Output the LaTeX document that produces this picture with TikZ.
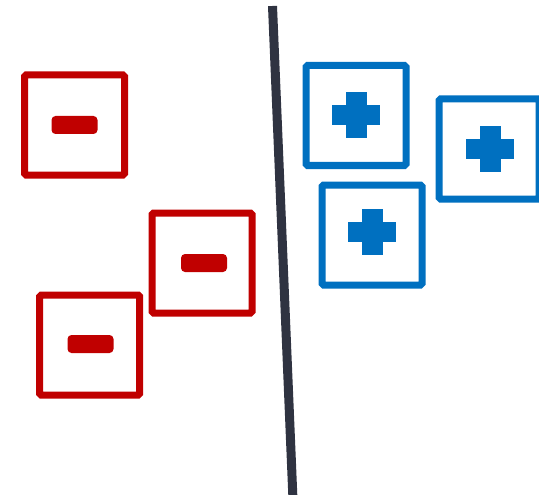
\documentclass[tikz,border=0pt]{standalone}
\begin{document}
\begin{tikzpicture}[x=1pt,y=-1pt,
  framebox/.style={draw, rectangle, line width=7pt, minimum size=100pt, inner sep=0pt, rounded corners=1.5pt, fill=white},
  negbox/.style={framebox, draw=negred},
  posbox/.style={framebox, draw=posblue},
  minusbar/.style={fill=negred, rectangle, minimum width=46pt, minimum height=18pt, inner sep=0pt, rounded corners=4pt},
  plusmark/.style={fill=posblue},
  divider/.style={draw=divgray, line width=9pt}]
\definecolor{negred}{HTML}{C00000}
\definecolor{posblue}{HTML}{0070C0}
\definecolor{divgray}{HTML}{2F3341}
\clip (0,0) rectangle (539,495);
\useasboundingbox (0,0) rectangle (539,495);

% separating line
\coordinate (ltop) at (272.5,6);
\coordinate (lbot) at (293,500);
\draw[divider] (ltop) -- (lbot);

% negative samples
\node[negbox] (n1) at (74.5,125) {};
\node[negbox] (n2) at (202,263) {};
\node[negbox] (n3) at (89.7,345) {};
\node[minusbar] (m1) at (74.5,125) {};
\node[minusbar] (m2) at (204,263) {};
\node[minusbar] (m3) at (90.5,344) {};

% positive samples
\node[posbox] (p1) at (356,115.5) {};
\node[posbox] (p2) at (372,235) {};
\node[posbox] (p3) at (489,149) {};
\foreach \c/\cx/\cy in {p1/356/115.5, p2/372/232, p3/490/149}{
  \coordinate (\c plus) at (\cx,\cy);
  \fill[plusmark] (\c plus) ++(-24,-10) rectangle ++(48,20);
  \fill[plusmark] (\c plus) ++(-10.5,-23) rectangle ++(21,46);
}
\end{tikzpicture}
\end{document}
